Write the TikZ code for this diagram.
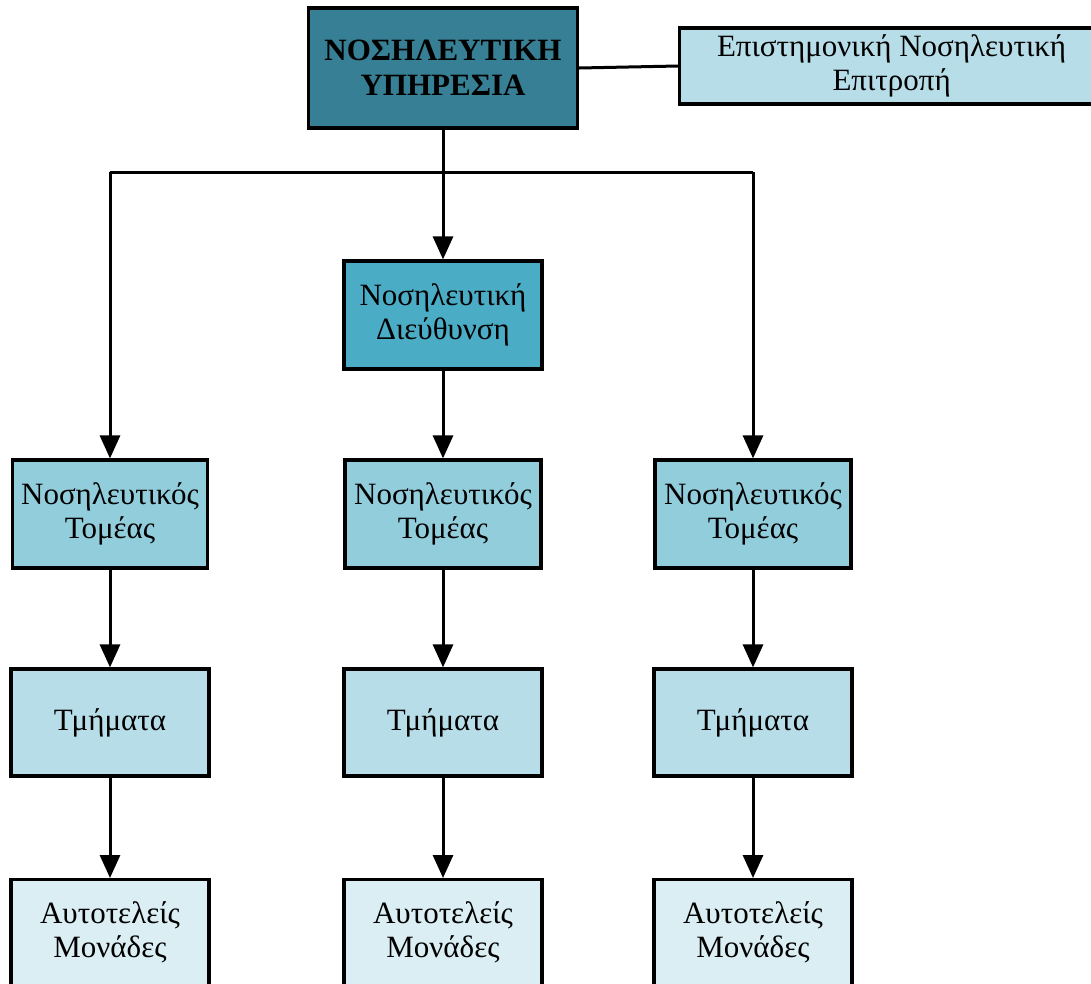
\documentclass[tikz,border=0pt]{standalone}
\usepackage{fontspec}
\setmainfont{Liberation Serif}
\usetikzlibrary{arrows.meta}
\definecolor{cTop}{HTML}{377F94}
\definecolor{cDir}{HTML}{4BACC6}
\definecolor{cSec}{HTML}{92CDDC}
\definecolor{cDep}{HTML}{B7DDE8}
\definecolor{cUnit}{HTML}{DAEEF3}
\tikzset{
  box/.style={draw=black, line width=3.2pt, align=center, inner sep=0pt,
    font=\fontsize{31}{34}\selectfont},
  lbl/.style={align=center, font=\fontsize{31}{34}\selectfont},
  link/.style={line width=3pt},
  arr/.style={link, -{Triangle[length=23pt,width=20pt]}},
}
\begin{document}
\begin{tikzpicture}[x=1pt,y=-1pt]
\useasboundingbox (0,0) rectangle (1091,983);
\clip (0,0) rectangle (1091,983);

% top level
\node[box, fill=cTop, minimum width=269pt, minimum height=120pt,
  font=\fontsize{31}{35}\selectfont\bfseries] (top) at (443,68) {ΝΟΣΗΛΕΥΤΙΚΗ\\ΥΠΗΡΕΣΙΑ};
\node[box, fill=cDep, minimum width=440pt, minimum height=76pt, anchor=west] (com) at (678,66)
  {\hspace*{-16pt}Επιστημονική Νοσηλευτική\\\hspace*{-16pt}Επιτροπή};

% directorate
\node[box, fill=cDir, minimum width=198pt, minimum height=108pt] (dir) at (443,315) {Νοσηλευτική\\Διεύθυνση};

% sectors
\node[box, fill=cSec, minimum width=195pt, minimum height=108pt] (s1) at (110,514) {Νοσηλευτικός\\Τομέας};
\node[box, fill=cSec, minimum width=196pt, minimum height=108pt] (s2) at (443,514) {Νοσηλευτικός\\Τομέας};
\node[box, fill=cSec, minimum width=196pt, minimum height=108pt] (s3) at (753,514) {Νοσηλευτικός\\Τομέας};

% departments
\node[box, fill=cDep, minimum width=198pt, minimum height=107pt] (d1) at (110,722.5) {Τμήματα};
\node[box, fill=cDep, minimum width=198pt, minimum height=107pt] (d2) at (443,722.5) {Τμήματα};
\node[box, fill=cDep, minimum width=198pt, minimum height=107pt] (d3) at (753,722.5) {Τμήματα};

% autonomous units (boxes run past the lower edge)
\node[box, fill=cUnit, minimum width=198pt, minimum height=130pt, anchor=north] (u1) at (110,878) {};
\node[box, fill=cUnit, minimum width=198pt, minimum height=130pt, anchor=north] (u2) at (443,878) {};
\node[box, fill=cUnit, minimum width=198pt, minimum height=130pt, anchor=north] (u3) at (753,878) {};
\node[lbl] (t1) at (110,932) {Αυτοτελείς\\Μονάδες};
\node[lbl] (t2) at (443,932) {Αυτοτελείς\\Μονάδες};
\node[lbl] (t3) at (753,932) {Αυτοτελείς\\Μονάδες};

% connectors
\coordinate (bar) at (443,172);
\coordinate (barL) at (110,172);
\coordinate (barR) at (753,172);
\draw[link] (top.east) -- (com.west);
\draw[link] (top.south) -- (bar);
\draw[link] (barL) -- (barR);
\draw[arr] (bar) -- (dir.north);
\draw[arr] (barL) -- (s1.north);
\draw[arr] (barR) -- (s3.north);
\draw[arr] (dir.south) -- (s2.north);
\draw[arr] (s1.south) -- (d1.north);
\draw[arr] (s2.south) -- (d2.north);
\draw[arr] (s3.south) -- (d3.north);
\draw[arr] (d1.south) -- (u1.north);
\draw[arr] (d2.south) -- (u2.north);
\draw[arr] (d3.south) -- (u3.north);
\end{tikzpicture}
\end{document}
